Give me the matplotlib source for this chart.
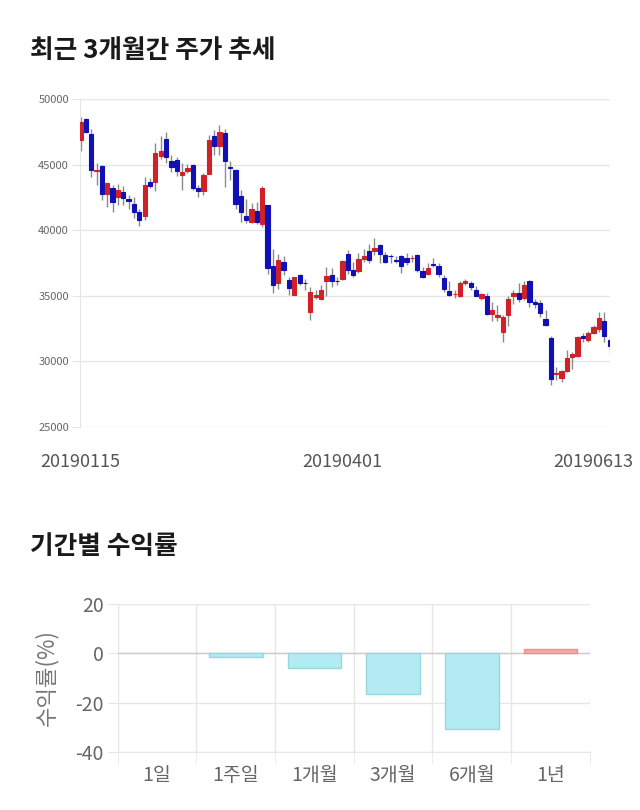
"""Recent 3-month candlestick chart plus period returns bar chart."""

import matplotlib

matplotlib.use("Agg")
import matplotlib.pyplot as plt
import numpy as np

plt.rcParams["font.family"] = ["Noto Sans CJK KR", "DejaVu Sans"]

# daily OHLC, 20190115 .. 20190613
opens = [
    46900, 48450, 47300, 44500, 44900, 42750, 43250, 42500, 42900, 42350,
    42000, 41350, 41100, 43700, 43700, 45650, 46950, 45300, 45350, 44200,
    44500, 44950, 43250, 43000, 44300, 47200, 46450, 47400, 44800, 44600,
    42600, 41050, 40600, 41500, 40450, 41900, 37250, 35950, 37600, 36200,
    35050, 36550, 36000, 33800, 34900, 34750, 36100, 36600, 36150, 36250,
    38200, 36950, 36900, 37800, 38450, 38450, 38900, 38100, 38050, 37700,
    38050, 37850, 37850, 38100, 36900, 36700, 37450, 37250, 36350, 35400,
    35100, 34950, 35950, 35950, 35450, 34800, 35000, 33600, 33350, 32250,
    33550, 35000, 35250, 34800, 36150, 34550, 34450, 33200, 31800, 29050,
    28700, 29300, 30350, 30400, 31950, 31650, 32200, 32500, 33050, 31650,
]
highs = [
    48650, 48550, 47700, 45150, 45000, 43650, 43450, 43500, 43400, 42700,
    42500, 41650, 44050, 43950, 46650, 47200, 47450, 45750, 45600, 45100,
    45050, 45050, 43450, 44350, 47250, 47600, 48000, 47700, 45300, 44700,
    43050, 42350, 42050, 42150, 43350, 41950, 38600, 38200, 38000, 36400,
    36450, 36700, 36250, 35700, 35450, 35850, 37200, 37100, 36450, 37750,
    38500, 37600, 38250, 38600, 38950, 39400, 38950, 38350, 38200, 38000,
    38100, 38250, 38100, 38200, 37200, 37500, 37850, 37500, 36600, 36100,
    35450, 36100, 36250, 36150, 35750, 35250, 35200, 34550, 34300, 33550,
    34950, 35450, 35950, 36100, 36200, 34750, 34700, 33950, 31950, 29600,
    29350, 30850, 30750, 31950, 32150, 32350, 32800, 33800, 33800, 31950,
]
lows = [
    46000, 47400, 44050, 43450, 42300, 41800, 41400, 41900, 41900, 41600,
    40900, 40300, 40750, 43200, 42950, 45450, 45150, 44450, 44150, 43100,
    44350, 43050, 42550, 42700, 44250, 45750, 45750, 43300, 43800, 41650,
    40650, 40550, 40550, 40500, 40250, 36700, 35200, 35550, 36600, 35050,
    35050, 35800, 35450, 33150, 34750, 34700, 34950, 35650, 35850, 36200,
    36700, 36450, 36750, 37600, 37500, 38100, 37500, 37500, 37500, 37500,
    36750, 37350, 37550, 36850, 36350, 36600, 37200, 36450, 35300, 35000,
    34800, 34900, 35850, 35450, 34950, 34700, 33550, 33100, 33100, 31450,
    32700, 34400, 34550, 34700, 34150, 34050, 33400, 32700, 28200, 28550,
    28450, 29200, 29450, 30300, 31500, 31500, 32100, 32250, 31500, 30600,
]
closes = [
    48250, 47500, 44600, 44600, 42750, 43600, 42150, 43050, 42450, 42250,
    41350, 40750, 43450, 43400, 45850, 46050, 45550, 44850, 44500, 44450,
    44750, 43200, 43000, 44200, 46900, 46450, 47450, 45300, 44750, 42000,
    41350, 40750, 41650, 40650, 43200, 37100, 35850, 37750, 37000, 35600,
    36400, 36000, 35950, 35300, 35050, 35450, 36500, 36100, 36100, 37650,
    37000, 36600, 37800, 38000, 37700, 38650, 38150, 37600, 38000, 37650,
    37300, 37550, 37900, 37000, 36450, 37150, 37350, 36700, 35550, 35050,
    35150, 35950, 36150, 35700, 35000, 35150, 33600, 33900, 33550, 33350,
    34750, 35200, 34750, 35800, 34550, 34400, 33700, 32800, 28650, 29100,
    29300, 30250, 30550, 31850, 31750, 32200, 32650, 33300, 31900, 31200,
]
date_labels = ["20190115", "20190401", "20190613"]
date_label_index = [0, 49, 96]
price_ticks = [25000, 30000, 35000, 40000, 45000, 50000]

periods = ["1일", "1주일", "1개월", "3개월", "6개월", "1년"]
returns = [0.0, -1.5, -6.1, -16.5, -30.5, 1.6]
return_ticks = [-40, -20, 0, 20]

UP = "#cf2228"
DOWN = "#1010b4"
GRID = "#e6e6e6"

fig = plt.figure(figsize=(6.4, 8.1), dpi=100)

fig.text(0.047, 0.928, "최근 3개월간 주가 추세", fontsize=18.5, fontweight="bold", color="#1a1a1a")
fig.text(0.047, 0.316, "기간별 수익률", fontsize=18.5, fontweight="bold", color="#1a1a1a")

# candlestick chart
ax = fig.add_axes([0.125, 0.4728, 0.828, 0.405])
o = np.asarray(opens, dtype=float)
h = np.asarray(highs, dtype=float)
lo = np.asarray(lows, dtype=float)
c = np.asarray(closes, dtype=float)
x = np.arange(len(o))
colors = np.where(c >= o, UP, DOWN)
ax.vlines(x, lo, h, color="#8a8a8a", linewidth=1.0, zorder=2)
ax.bar(x, np.abs(c - o), bottom=np.minimum(o, c), width=0.8, color=colors,
       edgecolor=colors, linewidth=0.8, zorder=3)
ax.set_xlim(-0.1, len(o) - 1 + 0.05)
ax.set_ylim(price_ticks[0], price_ticks[-1])
ax.set_yticks(price_ticks)
ax.set_yticklabels([str(t) for t in price_ticks], fontsize=8, color="#666666")
ax.set_xticks(date_label_index)
ax.set_xticklabels(date_labels, fontsize=13, color="#555555")
ax.tick_params(axis="x", length=0, pad=19)
ax.tick_params(axis="y", length=6, color=GRID, pad=2)
ax.grid(axis="y", color=GRID, linewidth=1)
ax.set_axisbelow(True)
for side in ("top", "right", "bottom"):
    ax.spines[side].set_visible(False)
ax.spines["left"].set_color(GRID)

# period returns chart
bx = fig.add_axes([0.184, 0.0716, 0.7375, 0.1827])
bar_colors = ["#f5aaaa" if r > 0 else "#b3ebf2" for r in returns]
edge_colors = ["#eb8f8f" if r > 0 else ("#98d6e0" if r < 0 else "none") for r in returns]
bx.bar(np.arange(len(periods)), returns, width=0.68, color=bar_colors,
       edgecolor=edge_colors, linewidth=1, zorder=3)
bx.set_xlim(-0.5, len(periods) - 0.5)
bx.set_ylim(return_ticks[0], return_ticks[-1])
bx.set_yticks(return_ticks)
bx.set_yticklabels([str(t) for t in return_ticks], fontsize=14, color="#666666")
bx.set_xticks(np.arange(len(periods)))
bx.set_xticklabels(periods, fontsize=14, color="#666666")
bx.set_xticks(np.arange(len(periods) + 1) - 0.5, minor=True)
bx.tick_params(axis="x", which="major", length=0, pad=9)
bx.tick_params(axis="x", which="minor", length=8, color=GRID)
bx.tick_params(axis="y", length=7, color=GRID, pad=3)
bx.grid(axis="y", color=GRID, linewidth=1)
bx.grid(axis="x", which="minor", color=GRID, linewidth=1)
bx.axhline(0, color="#cccccc", linewidth=1, zorder=2)
bx.set_axisbelow(True)
bx.set_ylabel("수익률(%)", fontsize=16, color="#777777", labelpad=12)
for side in ("top", "right", "left"):
    bx.spines[side].set_visible(False)
bx.spines["bottom"].set_color(GRID)

fig.savefig("out.png", dpi=100)
